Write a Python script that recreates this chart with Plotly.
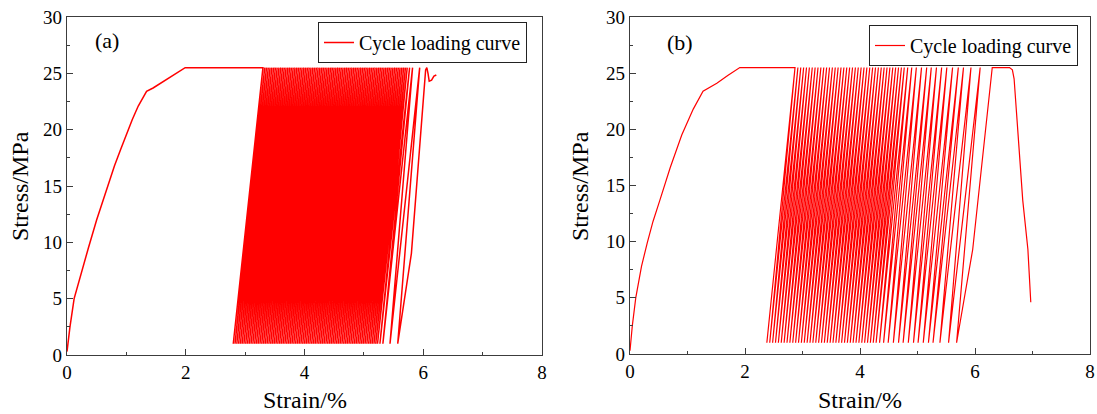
import plotly.graph_objects as go

# ---------------- data ----------------
STRESS_TOP = 25.5   # MPa, upper stress of cycles
STRESS_LOW = 1.0    # MPa, lower stress of cycles

# Panel (a)
a_init_strain = [0.00, 0.05, 0.12, 0.25, 0.36, 0.50, 0.61, 0.70, 0.80, 0.90, 1.00, 1.10, 1.20, 1.34, 1.45, 1.57, 1.80, 1.99]
a_init_stress = [0.3, 2.5, 5.0, 7.5, 9.5, 12.0, 13.8, 15.3, 16.8, 18.2, 19.6, 20.9, 22.1, 23.4, 23.7, 24.1, 24.9, 25.5]
a_cycle_bottom = [
    2.80, 2.83, 2.86, 2.89, 2.92, 2.95, 2.98, 3.01, 3.04, 3.07,
    3.10, 3.13, 3.16, 3.19, 3.22, 3.25, 3.28, 3.31, 3.34, 3.37,
    3.40, 3.43, 3.46, 3.49, 3.52, 3.55, 3.58, 3.61, 3.64, 3.67,
    3.70, 3.73, 3.76, 3.79, 3.82, 3.85, 3.88, 3.91, 3.94, 3.97,
    4.00, 4.03, 4.06, 4.09, 4.12, 4.15, 4.18, 4.21, 4.24, 4.27,
    4.30, 4.33, 4.36, 4.39, 4.42, 4.45, 4.48, 4.51, 4.54, 4.57,
    4.60, 4.63, 4.66, 4.69, 4.72, 4.75, 4.78, 4.81, 4.84, 4.87,
    4.90, 4.93, 4.96, 4.99, 5.02, 5.05, 5.08, 5.11, 5.14, 5.17,
    5.20, 5.23, 5.27, 5.32, 5.44, 5.57]
a_cycle_top = [
    3.30, 3.30, 3.33, 3.36, 3.39, 3.42, 3.45, 3.48, 3.51, 3.54,
    3.57, 3.60, 3.63, 3.66, 3.69, 3.72, 3.75, 3.78, 3.81, 3.84,
    3.87, 3.90, 3.93, 3.96, 3.99, 4.02, 4.05, 4.08, 4.11, 4.14,
    4.17, 4.20, 4.23, 4.26, 4.29, 4.32, 4.35, 4.38, 4.41, 4.44,
    4.47, 4.50, 4.53, 4.56, 4.59, 4.62, 4.65, 4.68, 4.71, 4.74,
    4.77, 4.80, 4.83, 4.86, 4.89, 4.92, 4.95, 4.98, 5.01, 5.04,
    5.07, 5.10, 5.13, 5.16, 5.19, 5.22, 5.25, 5.28, 5.31, 5.34,
    5.37, 5.40, 5.43, 5.46, 5.49, 5.52, 5.55, 5.58, 5.61, 5.64,
    5.67, 5.70, 5.73, 5.77, 5.82, 5.94]
a_final_strain = [5.80, 6.04, 6.06, 6.08, 6.10, 6.14, 6.18, 6.22]
a_final_stress = [9.0, 25.3, 25.5, 25.0, 24.3, 24.4, 24.75, 24.85]

# Panel (b)
b_init_strain = [0.00, 0.04, 0.10, 0.20, 0.30, 0.40, 0.52, 0.70, 0.90, 1.10, 1.27, 1.38, 1.51, 1.70, 1.91]
b_init_stress = [0.3, 2.5, 5.0, 7.8, 9.9, 11.8, 13.7, 16.6, 19.5, 21.8, 23.4, 23.7, 24.1, 24.8, 25.5]
b_cycle_bottom = [
    2.38, 2.43, 2.48, 2.53, 2.58, 2.63, 2.68, 2.73, 2.78, 2.83,
    2.88, 2.93, 2.98, 3.03, 3.08, 3.13, 3.18, 3.23, 3.28, 3.33,
    3.38, 3.43, 3.48, 3.53, 3.58, 3.63, 3.68, 3.73, 3.78, 3.83,
    3.88, 3.93, 3.98, 4.03, 4.08, 4.13, 4.18, 4.23, 4.28, 4.34,
    4.41, 4.49, 4.58, 4.67, 4.75, 4.84, 4.93, 5.01, 5.10, 5.19,
    5.27, 5.39, 5.54, 5.68]
b_cycle_top = [
    2.87, 2.87, 2.92, 2.97, 3.02, 3.07, 3.12, 3.17, 3.22, 3.27,
    3.32, 3.37, 3.42, 3.47, 3.52, 3.57, 3.62, 3.67, 3.72, 3.77,
    3.82, 3.87, 3.92, 3.97, 4.02, 4.07, 4.12, 4.17, 4.22, 4.27,
    4.32, 4.37, 4.42, 4.47, 4.52, 4.57, 4.62, 4.67, 4.72, 4.77,
    4.83, 4.90, 4.98, 5.07, 5.16, 5.24, 5.33, 5.42, 5.51, 5.61,
    5.71, 5.80, 5.93, 6.09]
b_final_strain = [5.96, 6.30, 6.60, 6.65, 6.68, 6.83, 6.92, 6.97]
b_final_stress = [9.3, 25.5, 25.5, 25.3, 24.5, 13.7, 9.3, 4.6]

x_ticks = [0, 2, 4, 6, 8]
y_ticks = [0, 5, 10, 15, 20, 25, 30]
SERIES_NAME = "Cycle loading curve"


def build_path(init_s, init_p, tops, bottoms, fin_s, fin_p):
    xs, ys = list(init_s), list(init_p)
    for t, b in zip(tops, bottoms):
        xs += [t, b]
        ys += [STRESS_TOP, STRESS_LOW]
    xs += list(fin_s)
    ys += list(fin_p)
    return xs, ys


ax, ay = build_path(a_init_strain, a_init_stress, a_cycle_top, a_cycle_bottom, a_final_strain, a_final_stress)
bx, by = build_path(b_init_strain, b_init_stress, b_cycle_top, b_cycle_bottom, b_final_strain, b_final_stress)

FONT = "Liberation Serif, Tinos, DejaVu Serif, serif"
W, H = 1097, 414
RED = "#ff0000"
AXC = "#3c3c3c"

fig = go.Figure()
fig.add_trace(go.Scatter(x=ax, y=ay, mode="lines", name=SERIES_NAME,
                         line=dict(color=RED, width=1.5), xaxis="x", yaxis="y", legend="legend"))
fig.add_trace(go.Scatter(x=bx, y=by, mode="lines", name=SERIES_NAME,
                         line=dict(color=RED, width=1.2), xaxis="x2", yaxis="y2", legend="legend2"))


def xax(domain, anchor):
    return dict(domain=domain, anchor=anchor, range=[0, 8], tickvals=x_ticks,
                ticks="inside", ticklen=6, tickwidth=1.2, tickcolor=AXC,
                minor=dict(dtick=1, tick0=0, ticks="inside", ticklen=3, tickwidth=1.2, tickcolor=AXC),
                showline=True, linecolor=AXC, linewidth=1.4, mirror=True,
                showgrid=False, zeroline=False, automargin=False,
                tickfont=dict(family=FONT, size=19, color="black"))


def yax(domain, anchor):
    return dict(domain=domain, anchor=anchor, range=[0, 30], tickvals=y_ticks,
                ticks="inside", ticklen=6, tickwidth=1.2, tickcolor=AXC,
                minor=dict(dtick=2.5, tick0=0, ticks="inside", ticklen=3, tickwidth=1.2, tickcolor=AXC),
                showline=True, linecolor=AXC, linewidth=1.4, mirror=True,
                showgrid=False, zeroline=False, automargin=False,
                tickfont=dict(family=FONT, size=19, color="black"))


legend_style = dict(bgcolor="white", bordercolor="#222", borderwidth=1,
                    font=dict(family=FONT, size=20, color="black"),
                    xanchor="right", yanchor="top", tracegroupgap=0)

fig.update_layout(
    width=W, height=H, margin=dict(l=0, r=0, t=0, b=0, autoexpand=False),
    paper_bgcolor="white", plot_bgcolor="white",
    font=dict(family=FONT, color="black"),
    xaxis=xax([67 / W, 542 / W], "y"),
    yaxis=yax([1 - 355 / H, 1 - 17 / H], "x"),
    xaxis2=xax([630 / W, 1090 / W], "y2"),
    yaxis2=yax([1 - 354 / H, 1 - 17 / H], "x2"),
    legend=dict(x=527 / W, y=1 - 22 / H, **legend_style),
    legend2=dict(x=1078 / W, y=1 - 25 / H, **legend_style),
    showlegend=True,
)

ann = [
    dict(text="(a)", x=0.67, y=27.9, xref="x", yref="y", font_size=22),
    dict(text="(b)", x=0.87, y=27.7, xref="x2", yref="y2", font_size=22),
    dict(text="Stress/MPa", x=20 / W, y=1 - 186 / H, xref="paper", yref="paper", textangle=-90, font_size=24),
    dict(text="Stress/MPa", x=580 / W, y=1 - 186 / H, xref="paper", yref="paper", textangle=-90, font_size=24),
    dict(text="Strain/%", x=304.5 / W, y=1 - 400 / H, xref="paper", yref="paper", font_size=24),
    dict(text="Strain/%", x=860 / W, y=1 - 400 / H, xref="paper", yref="paper", font_size=24),
]
for a in ann:
    fs = a.pop("font_size")
    fig.add_annotation(showarrow=False, xanchor="center", yanchor="middle",
                       font=dict(family=FONT, size=fs, color="black"), **a)

fig.write_html("out.html")
